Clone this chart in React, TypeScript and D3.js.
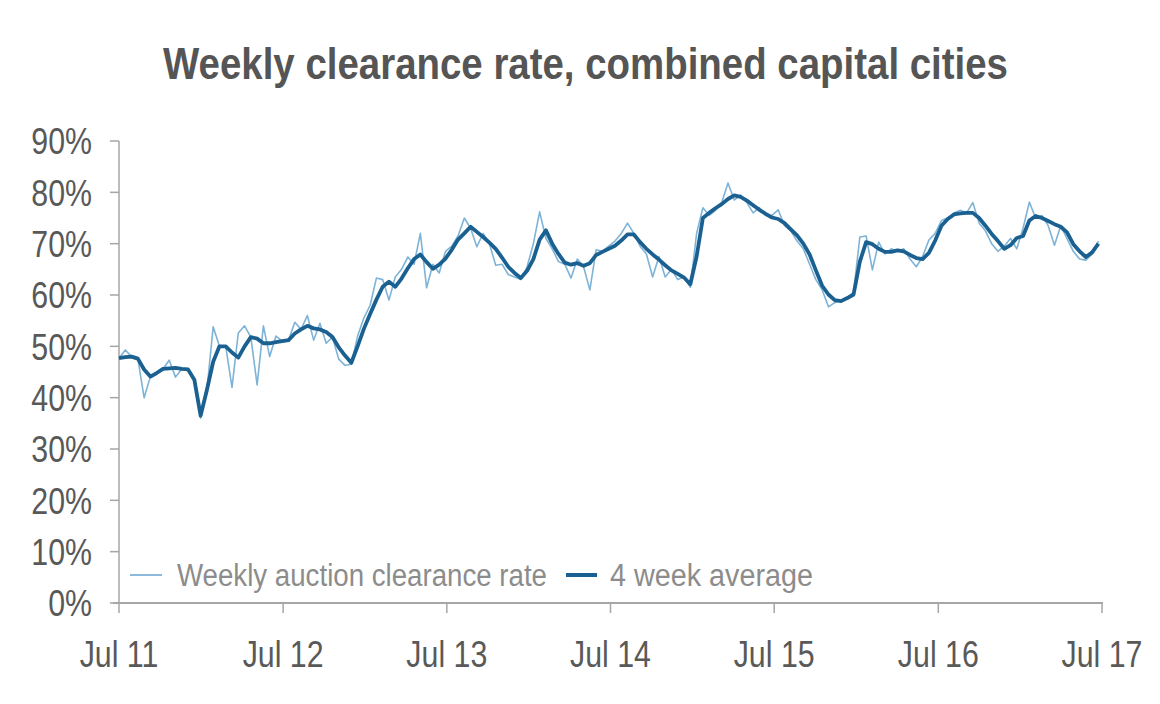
import React from "react";
import * as d3 from "d3";

const title = "Weekly clearance rate, combined capital cities";
const seriesNames = ["Weekly auction clearance rate", "4 week average"];
const startDate = new Date(2011, 6, 1);
const stepDays = 14;

// fortnightly readings (%), starting Jul 2011
const weekly = [
  47.7, 49.3, 48, 47.6, 40, 44.1, 44.8, 45.6, 47.3, 44,
  45.6, 45.5, 43.5, 36, 41.5, 53.8, 50, 50, 42, 52.6,
  54, 51.8, 42.5, 54, 48, 52, 51, 51.2, 54.7, 53.3,
  56, 51.2, 54.5, 50.6, 51.8, 47.5, 46.3, 46.5, 52, 55.5,
  58, 63.3, 63, 59, 63.5, 65, 67.4, 66, 72, 61.4,
  66, 64.3, 68.5, 69.5, 71.5, 75, 73, 69.4, 72, 70,
  65.8, 66, 64, 63.5, 63, 65.5, 70, 76.2, 71, 69,
  66.5, 66, 63.3, 67, 65.5, 61, 68.8, 68.5, 69.5, 70.5,
  72, 74, 72, 69.5, 68, 63.5, 67.5, 63.5, 65, 63,
  63.5, 61.5, 72, 77, 75.5, 76.5, 78, 81.8, 78.5, 79.5,
  78, 76, 77, 75.5, 75.5, 76.6, 73.5, 72.5, 70.5, 69,
  66, 63, 61, 57.7, 58.5, 59, 59.5, 60.5, 71.3, 71.5,
  64.9, 70.3, 68, 69, 68.5, 69, 67, 65.5, 67.5, 70.7,
  72, 74.5, 75, 76, 76.5, 76, 78, 74, 72.5, 70,
  68.5, 69.5, 71, 69, 73, 78.1, 75, 75.5, 73.5, 69.7,
  73.5, 71, 68.5, 67, 66.8, 68, 70.5,
];

const average = [
  47.7, 47.9, 48, 47.6, 45.5, 44.1, 44.8, 45.6, 45.7, 45.8,
  45.6, 45.5, 43.5, 36.5, 41.5, 47, 50, 50, 48.8, 47.8,
  50, 51.8, 51.5, 50.6, 50.6, 50.8, 51, 51.2, 52.5, 53.3,
  54, 53.5, 53.3, 52.8, 51.8, 49.8, 48.2, 46.8, 50, 53.4,
  56.3, 59.1, 61.6, 62.6, 61.6, 63.2, 65.2, 67, 67.9, 66.4,
  65.1, 65.9, 67.1, 68.8, 70.8, 72, 73.3, 72.3, 71.3, 70.2,
  69, 67.3, 65.5, 64.3, 63.3, 64.7, 67, 70.8, 72.6, 70,
  68, 66.3, 65.9, 66.2, 65.7, 66.2, 67.8, 68.4, 69, 69.6,
  70.6, 71.8, 71.8, 70.3, 69, 67.9, 66.9, 65.8, 64.8, 64.1,
  63.4, 62.1, 67.5, 75, 76, 76.9, 77.7, 78.7, 79.4, 79.1,
  78.4, 77.5, 76.6, 75.8, 75.1, 74.8, 74, 72.8, 71.6, 70,
  67.9, 64.8, 61.8, 60.1, 59, 58.8, 59.4, 60.1, 66.5, 70.3,
  69.9, 69, 68.4, 68.4, 68.7, 68.5, 67.8, 67.2, 67, 68.2,
  70.6, 73.5, 74.8, 75.7, 75.9, 76, 76, 75, 73.5, 71.9,
  70.5, 69, 69.7, 71.1, 71.5, 74.5, 75.4, 75, 74.4, 73.8,
  73.3, 72.2, 69.9, 68.5, 67.4, 68.3, 70,
];

const yTicks = [0, 10, 20, 30, 40, 50, 60, 70, 80, 90];
const xTickYears = [2011, 2012, 2013, 2014, 2015, 2016, 2017];
const xTickLabels = ["Jul 11", "Jul 12", "Jul 13", "Jul 14", "Jul 15", "Jul 16", "Jul 17"];

const W = 1160;
const H = 704;
const M = { left: 119, right: 1102, top: 141, bottom: 603 };
const FONT = "'Liberation Sans', Arial, sans-serif";
const NARROW = 0.82;

export default function App() {
  const dates = weekly.map((_, i) => d3.timeDay.offset(startDate, i * stepDays));
  const x = d3
    .scaleTime()
    .domain([new Date(2011, 6, 1), new Date(2017, 6, 1)])
    .range([M.left, M.right]);
  const y = d3.scaleLinear().domain([0, 90]).range([M.bottom, M.top]);

  const line = d3
    .line<number>()
    .x((_, i) => x(dates[i]))
    .y((v) => y(v));

  const axisColor = "#a6a6a6";
  const labelColor = "#595959";

  return (
    <svg
      width={W}
      height={H}
      style={{ position: "absolute", left: 0, top: 0, background: "#fff" }}
    >
      <text
        x={163}
        y={79}
        fontFamily={FONT}
        fontWeight="bold"
        fontSize={45}
        fill="#555555"
        textLength={845}
        lengthAdjust="spacingAndGlyphs"
      >
        {title}
      </text>

      {/* Y axis */}
      <line x1={M.left} x2={M.left} y1={y(90)} y2={M.bottom} stroke={axisColor} strokeWidth={1.5} />
      {yTicks.map((t) => (
        <g key={t}>
          <line x1={M.left - 9} x2={M.left} y1={y(t)} y2={y(t)} stroke={axisColor} strokeWidth={1.5} />
          <g transform={`translate(92,${y(t)}) scale(${NARROW},1)`}>
            <text
              dy="0.36em"
              textAnchor="end"
              fontFamily={FONT}
              fontSize={37}
              fill={labelColor}
            >
              {t}%
            </text>
          </g>
        </g>
      ))}

      {/* X axis */}
      <line x1={M.left - 6} x2={M.right + 1} y1={M.bottom} y2={M.bottom} stroke={axisColor} strokeWidth={2} />
      {xTickYears.map((yr, i) => {
        const px = x(new Date(yr, 6, 1));
        return (
          <g key={yr}>
            <line x1={px} x2={px} y1={M.bottom} y2={M.bottom + 10} stroke={axisColor} strokeWidth={1.5} />
            <g transform={`translate(${px},667) scale(${NARROW},1)`}>
              <text textAnchor="middle" fontFamily={FONT} fontSize={37} fill={labelColor}>
                {xTickLabels[i]}
              </text>
            </g>
          </g>
        );
      })}

      {/* Series */}
      <path d={line(weekly) || ""} fill="none" stroke="#7eb3d8" strokeWidth={1.6} strokeLinejoin="round" />
      <path d={line(average) || ""} fill="none" stroke="#1a6090" strokeWidth={3.8} strokeLinejoin="round" />

      {/* Legend */}
      <line x1={130} x2={162} y1={575} y2={575} stroke="#7eb3d8" strokeWidth={1.8} />
      <text
        x={177}
        y={586}
        fontFamily={FONT}
        fontSize={31}
        fill="#8c8c8c"
        textLength={370}
        lengthAdjust="spacingAndGlyphs"
      >
        {seriesNames[0]}
      </text>
      <line x1={566} x2={597} y1={575} y2={575} stroke="#1a6090" strokeWidth={4} />
      <text
        x={610}
        y={586}
        fontFamily={FONT}
        fontSize={31}
        fill="#8c8c8c"
        textLength={203}
        lengthAdjust="spacingAndGlyphs"
      >
        {seriesNames[1]}
      </text>
    </svg>
  );
}
